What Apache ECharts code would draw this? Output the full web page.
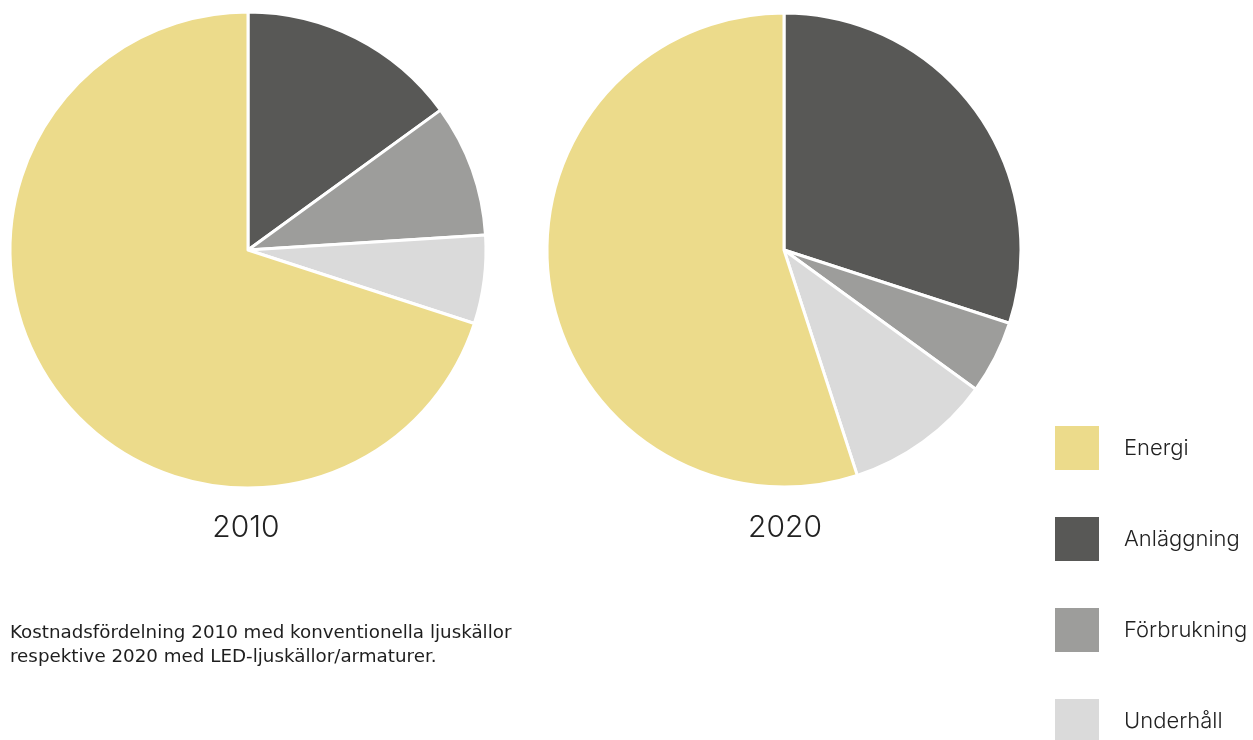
<!DOCTYPE html>
<html>
<head>
<meta charset="utf-8">
<script src="https://cdn.jsdelivr.net/npm/echarts@6/dist/echarts.min.js"></script>
<style>
  html, body { margin: 0; padding: 0; background: #fff; }
  #chart { width: 1253px; height: 740px; }
</style>
</head>
<body>
<div id="chart"></div>
<script>
// kategorier i legendens ordning
const categories = ['Energi', 'Anläggning', 'Förbrukning', 'Underhåll']
// andelar i procent, samma ordning som categories
const values2010 = [70, 15, 9, 6]
const values2020 = [55, 30, 5, 10]
const years = ['2010', '2020']
const colors = ['#ecdb8b', '#585856', '#9d9d9b', '#dadada']
const caption = 'Kostnadsfördelning 2010 med konventionella ljuskällor\nrespektive 2020 med LED-ljuskällor/armaturer.'

// medurs från kl 12: Anläggning, Förbrukning, Underhåll, Energi
const drawOrder = [1, 2, 3, 0]
function pieData(vals) {
  return drawOrder.map(i => ({ name: categories[i], value: vals[i], itemStyle: { color: colors[i] } }))
}

const font = 'Inter, "Noto Sans", sans-serif'
const chart = echarts.init(document.getElementById('chart'))
const option = {
  animation: false,
  textStyle: { fontFamily: font },
  title: [
    { text: years[0], left: 246, top: 513, textAlign: 'center', padding: 0,
      textStyle: { fontSize: 30, fontWeight: 300, color: '#222', fontFamily: font } },
    { text: years[1], left: 785, top: 513, textAlign: 'center', padding: 0,
      textStyle: { fontSize: 30, fontWeight: 300, color: '#222', fontFamily: font } },
    { text: caption, left: 10, top: 621, padding: 0,
      textStyle: { fontSize: 18.3, fontWeight: 'normal', color: '#1e1e1e', lineHeight: 24,
        fontFamily: '"DejaVu Sans", sans-serif' } }
  ],
  legend: {
    orient: 'vertical',
    left: 1053,
    top: 424,
    height: 400,
    padding: 0,
    itemWidth: 46,
    itemHeight: 46,
    itemGap: 43,
    icon: 'rect',
    selectedMode: false,
    data: categories,
    textStyle: { fontSize: 22, fontWeight: 300, color: '#222', padding: [0, 0, 0, 19], fontFamily: font }
  },
  series: [
    {
      type: 'pie',
      center: [248, 250],
      radius: 238,
      startAngle: 90,
      label: { show: false },
      labelLine: { show: false },
      emphasis: { disabled: true },
      itemStyle: { borderColor: '#fff', borderWidth: 3 },
      data: pieData(values2010)
    },
    {
      type: 'pie',
      center: [784, 250],
      radius: 237,
      startAngle: 90,
      label: { show: false },
      labelLine: { show: false },
      emphasis: { disabled: true },
      itemStyle: { borderColor: '#fff', borderWidth: 3 },
      data: pieData(values2020)
    }
  ]
}
chart.setOption(option)
window.addEventListener('resize', () => {
  chart.resize()
})
</script>
</body>
</html>
